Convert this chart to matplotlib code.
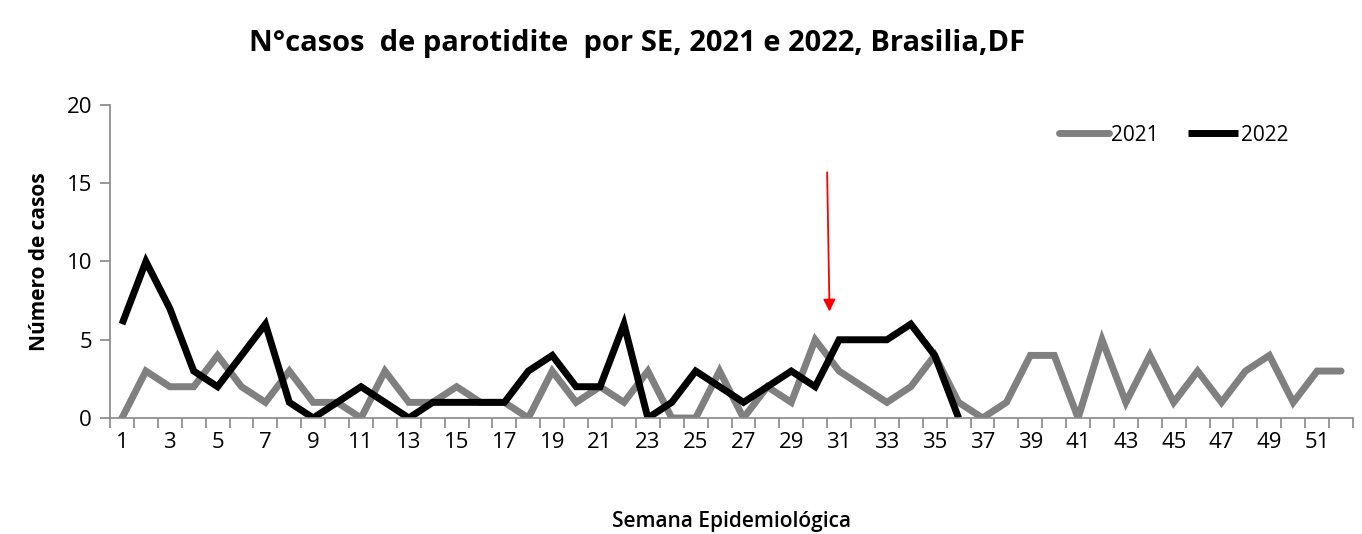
import matplotlib.pyplot as plt

plt.rcParams["font.family"] = ["Open Sans", "DejaVu Sans"]

# weekly case counts
weeks = list(range(1, 53))
cases_2021 = [0, 3, 2, 2, 4, 2, 1, 3, 1, 1, 0, 3, 1, 1, 2, 1, 1, 0, 3, 1,
              2, 1, 3, 0, 0, 3, 0, 2, 1, 5, 3, 2, 1, 2, 4, 1, 0, 1, 4, 4,
              0, 5, 1, 4, 1, 3, 1, 3, 4, 1, 3, 3]
weeks_2022 = list(range(1, 37))
cases_2022 = [6, 10, 7, 3, 2, 4, 6, 1, 0, 1, 2, 1, 0, 1, 1, 1, 1, 3, 4, 2,
              2, 6, 0, 1, 3, 2, 1, 2, 3, 2, 5, 5, 5, 6, 4, 0]
x_labels = [str(w) for w in range(1, 53, 2)]

fig = plt.figure(figsize=(13.62, 5.34), dpi=100)
ax = fig.add_axes([0.0808, 0.2172, 0.9126, 0.5862])

ax.plot(weeks, cases_2021, color="#808080", lw=5, label="2021",
        solid_capstyle="round", solid_joinstyle="miter")
ax.plot(weeks_2022, cases_2022, color="black", lw=5, label="2022",
        solid_capstyle="butt", solid_joinstyle="miter")

# red arrow pointing to week 30/31
ax.annotate("", xy=(30.6, 6.8), xytext=(30.5, 15.7),
            arrowprops=dict(arrowstyle="-|>", color="red", lw=1.3,
                            mutation_scale=18, shrinkA=0, shrinkB=0))

ax.set_xlim(0.5, 52.5)
ax.set_ylim(0, 20)
ax.set_yticks([0, 5, 10, 15, 20])
ax.set_xticks(range(1, 53, 2))
ax.set_xticklabels(x_labels)
ax.set_xticks([w + 0.5 for w in range(0, 53)], minor=True)
ax.tick_params(axis="x", which="major", length=0, pad=10, labelsize=16)
ax.tick_params(axis="x", which="minor", length=7, color="#888888", width=1.2)
ax.tick_params(axis="y", length=7, color="#888888", width=1.2, labelsize=16, pad=6)

for side in ["top", "right"]:
    ax.spines[side].set_visible(False)
for side in ["left", "bottom"]:
    ax.spines[side].set_color("#888888")
    ax.spines[side].set_linewidth(1.2)

ax.set_ylabel("Número de casos", fontsize=15, fontweight="bold", labelpad=12)
ax.set_xlabel("Semana Epidemiológica", fontsize=15, fontweight="semibold", labelpad=42)
fig.suptitle("N°casos  de parotidite  por SE, 2021 e 2022, Brasilia,DF",
             x=0.468, y=0.945, fontsize=21, fontweight="bold")

ax.legend(loc="center left", bbox_to_anchor=(0.748, 0.904), ncol=2, frameon=False,
          fontsize=15, handlelength=2.4, handletextpad=0.1, columnspacing=1.45)

plt.savefig("out.png")
